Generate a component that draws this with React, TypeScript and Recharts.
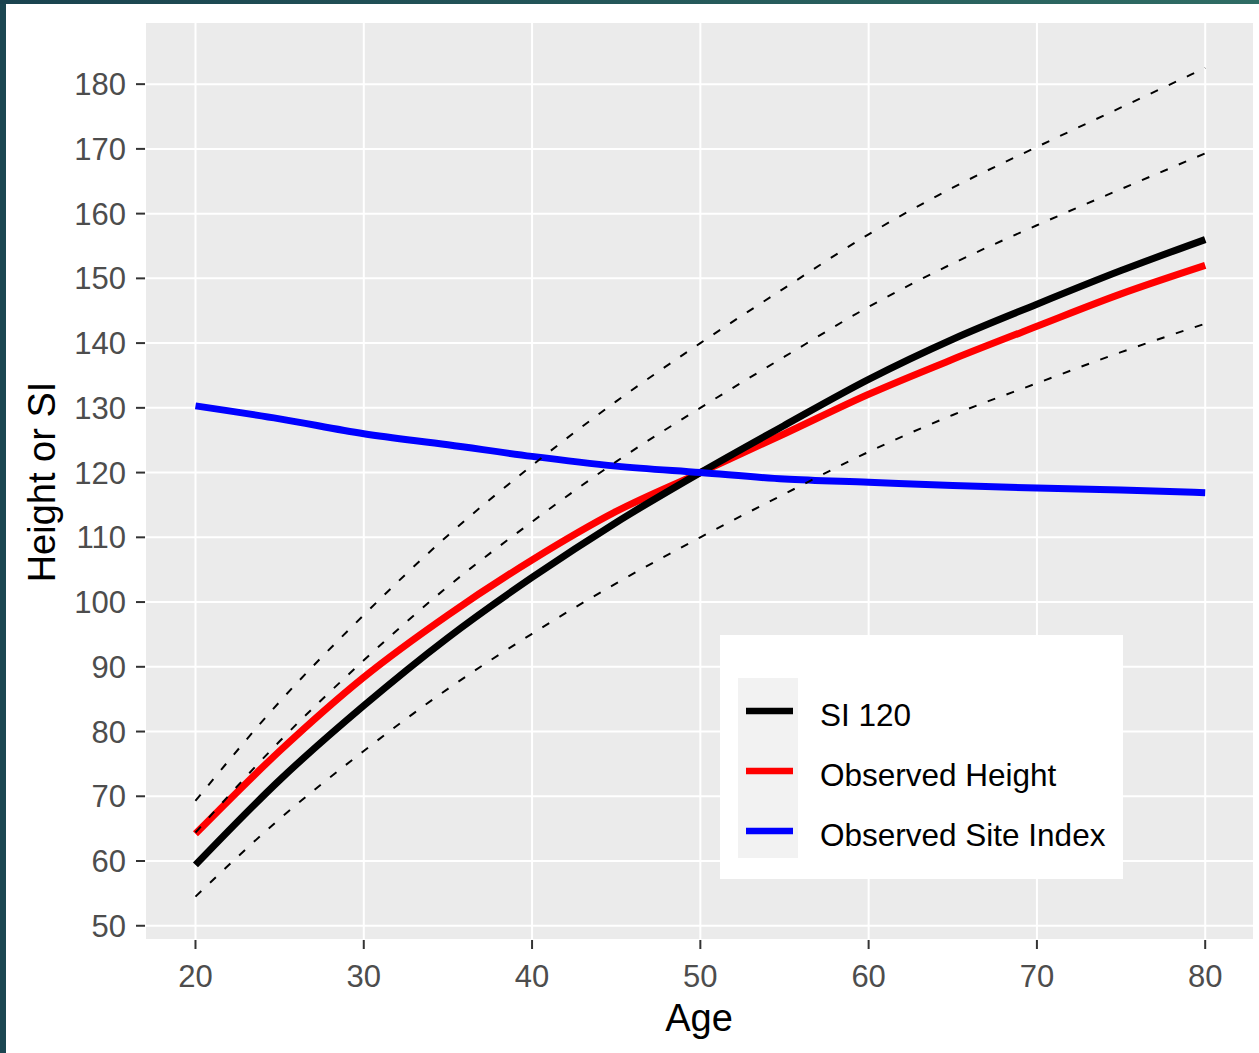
import React from "react";
import { LineChart, Line, XAxis, YAxis, CartesianGrid } from "recharts";

// ages on the x axis
const ages = [20, 25, 30, 35, 40, 45, 50, 55, 60, 65, 70, 75, 80];

// main series
const si120 = [59.4, 72.5, 84.0, 94.5, 103.8, 112.3, 120.0, 127.3, 134.4, 140.6, 146.0, 151.2, 156.0];
const observedHeight = [64.2, 77.0, 88.4, 98.0, 106.5, 114.0, 120.0, 126.0, 132.1, 137.5, 142.6, 147.6, 152.0];
const observedSiteIndex = [130.3, 128.3, 126.0, 124.3, 122.5, 121.0, 120.0, 119.0, 118.5, 118.0, 117.6, 117.3, 116.9];

// dashed reference site index curves
const si140 = [69.3, 84.6, 98.0, 110.3, 121.1, 131.0, 140.0, 148.5, 156.8, 164.0, 170.3, 176.4, 182.5];
const si130 = [64.4, 78.5, 91.0, 102.4, 112.4, 121.7, 130.0, 137.9, 145.6, 152.3, 158.2, 163.8, 169.3];
const si110 = [54.5, 66.5, 77.0, 86.6, 95.1, 102.9, 110.0, 116.7, 123.2, 128.9, 133.8, 138.6, 143.0];

const xTicks = [20, 30, 40, 50, 60, 70, 80];
const yTicks = [50, 60, 70, 80, 90, 100, 110, 120, 130, 140, 150, 160, 170, 180];

const legendItems = [
  { label: "SI 120", color: "#000000" },
  { label: "Observed Height", color: "#ff0000" },
  { label: "Observed Site Index", color: "#0000ff" },
];

const data = ages.map((age, i) => ({
  age,
  si120: si120[i],
  observedHeight: observedHeight[i],
  observedSiteIndex: observedSiteIndex[i],
  si140: si140[i],
  si130: si130[i],
  si110: si110[i],
}));

const FONT = '"Liberation Sans", Arial, sans-serif';
const tickStyle = { fill: "#4d4d4d", fontSize: 31, fontFamily: FONT };
const tickLineStyle = { stroke: "#333333", strokeWidth: 2 };

const xTitle = () => (
  <text x={699} y={1031} textAnchor="middle" fontSize={38} fontFamily={FONT} fill="#000">
    Age
  </text>
);

const yTitle = () => (
  <text
    x={55}
    y={482}
    transform="rotate(-90 55 482)"
    textAnchor="middle"
    fontSize={38}
    fontFamily={FONT}
    fill="#000"
  >
    Height or SI
  </text>
);

function LegendBox() {
  return (
    <svg
      width={403}
      height={244}
      style={{ position: "absolute", left: 720, top: 635 }}
    >
      <rect x={0} y={0} width={403} height={244} fill="#ffffff" />
      <rect x={18} y={43} width={60} height={180} fill="#f2f2f2" />
      {legendItems.map((item, i) => (
        <g key={item.label}>
          <line
            x1={26}
            x2={73}
            y1={76 + i * 60}
            y2={76 + i * 60}
            stroke={item.color}
            strokeWidth={6.5}
          />
          <text x={100} y={91 + i * 60} fontSize={31.5} fontFamily={FONT} fill="#000">
            {item.label}
          </text>
        </g>
      ))}
    </svg>
  );
}

export default function App() {
  return (
    <div
      style={{
        position: "absolute",
        left: 0,
        top: 0,
        width: 1259,
        height: 1053,
        background: "#ffffff",
        overflow: "hidden",
      }}
    >
      <LineChart
        width={1259}
        height={1053}
        data={data}
        margin={{ top: 22, right: 5, left: 0, bottom: 0 }}
      >
        {/* grey panel with white major grid */}
        <CartesianGrid fill="#ebebeb" fillOpacity={1} stroke="#ffffff" strokeWidth={2} />

        <XAxis
          dataKey="age"
          type="number"
          domain={[17, 82.9]}
          ticks={xTicks}
          interval={0}
          height={113}
          tickSize={9}
          tickMargin={16}
          axisLine={false}
          tickLine={tickLineStyle}
          tick={tickStyle}
          label={xTitle}
        />
        <YAxis
          type="number"
          domain={[47.8, 189.6]}
          ticks={yTicks}
          interval={0}
          width={145}
          tickSize={9}
          tickMargin={10}
          axisLine={false}
          tickLine={tickLineStyle}
          tick={tickStyle}
          label={yTitle}
        />

        <Line
          dataKey="observedHeight"
          type="monotone"
          stroke="#ff0000"
          strokeWidth={7}
          dot={false}
          isAnimationActive={false}
        />
        <Line
          dataKey="si120"
          type="monotone"
          stroke="#000000"
          strokeWidth={7}
          dot={false}
          isAnimationActive={false}
        />
        <Line
          dataKey="observedSiteIndex"
          type="monotone"
          stroke="#0000ff"
          strokeWidth={7}
          dot={false}
          isAnimationActive={false}
        />

        {/* dashed site index curves */}
        {["si140", "si130", "si110"].map((k) => (
          <Line
            key={k}
            dataKey={k}
            type="monotone"
            stroke="#000000"
            strokeWidth={2}
            strokeDasharray="8 12"
            dot={false}
            legendType="none"
            isAnimationActive={false}
          />
        ))}
      </LineChart>

      <LegendBox />

      {/* dark frame edges */}
      <div style={{ position: "absolute", left: 0, top: 0, width: 6, height: 1053, background: "#1b4651" }} />
      <div
        style={{
          position: "absolute",
          left: 0,
          top: 0,
          width: 1259,
          height: 4,
          background: "linear-gradient(to right, #1a434f, #2f6c64)",
        }}
      />
    </div>
  );
}
